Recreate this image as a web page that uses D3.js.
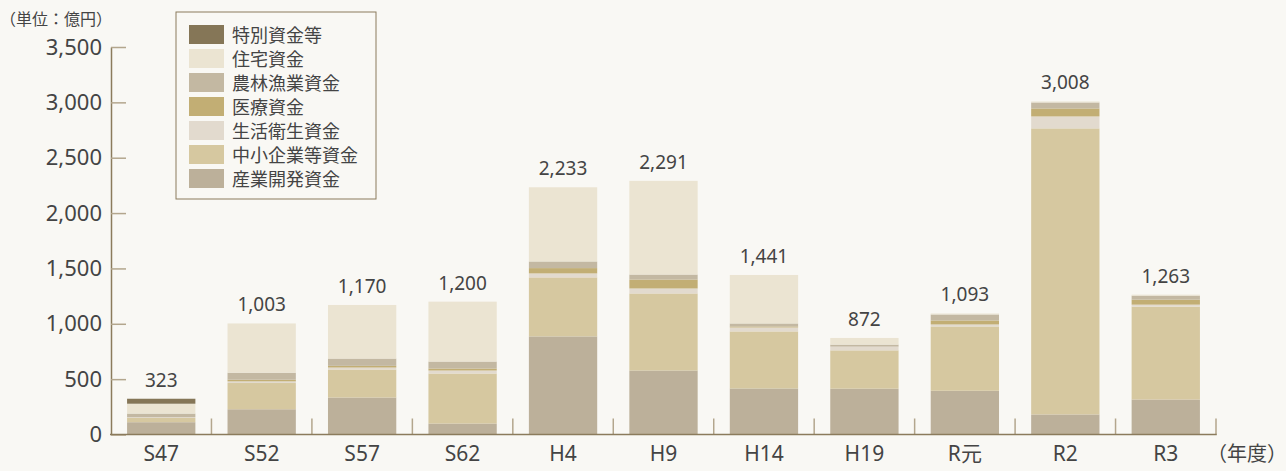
<!DOCTYPE html>
<html lang="ja">
<head>
<meta charset="utf-8">
<script src="https://cdn.jsdelivr.net/npm/d3@7"></script>
<style>
  html, body { margin: 0; padding: 0; background: #f9f8f4; }
  svg { display: block; }
  text { font-family: "Noto Sans", "Noto Sans CJK JP", sans-serif; fill: #444; }
</style>
</head>
<body>
<svg id="chart" width="1286" height="471"></svg>
<script>
// Fiscal-year categories and the stated totals (億円)
const categories = ["S47", "S52", "S57", "S62", "H4", "H9", "H14", "H19", "R元", "R2", "R3"];
const totals = [323, 1003, 1170, 1200, 2233, 2291, 1441, 872, 1093, 3008, 1263];

// Loan amounts by fund type, stacked bottom to top
const sangyoKaihatsu = [111, 228, 334, 99, 886, 578, 416, 414, 395, 181, 316];
const chushoKigyo    = [39, 237, 253, 452, 533, 696, 515, 346, 581, 2584, 839];
const seikatsuEisei  = [6, 15, 18, 27, 36, 45, 36, 34, 18, 108, 18];
const iryo           = [0, 15, 15, 18, 48, 81, 9, 0, 36, 72, 45];
const norinGyogyo    = [33, 63, 66, 63, 60, 45, 27, 18, 54, 54, 36];
const jutaku         = [89, 445, 484, 541, 670, 846, 438, 60, 9, 9, 9];
const tokubetsu      = [45, 0, 0, 0, 0, 0, 0, 0, 0, 0, 0];

const yTicks = [0, 500, 1000, 1500, 2000, 2500, 3000, 3500];

const series = [
  { name: "産業開発資金",   values: sangyoKaihatsu, color: "#bcb09a" },
  { name: "中小企業等資金", values: chushoKigyo,    color: "#d6c8a0" },
  { name: "生活衛生資金",   values: seikatsuEisei,  color: "#e2dace" },
  { name: "医療資金",       values: iryo,           color: "#c2ae74" },
  { name: "農林漁業資金",   values: norinGyogyo,    color: "#c3b8a2" },
  { name: "住宅資金",       values: jutaku,         color: "#ebe4d2" },
  { name: "特別資金等",     values: tokubetsu,      color: "#857657" }
];

const rows = categories.map((c, i) => {
  const r = { cat: c };
  series.forEach(s => { r[s.name] = s.values[i]; });
  return r;
});

const svg = d3.select("#chart");
const axisColor = "#8b7b5c";
const tickColor = "#b3a68d";

const x = d3.scaleBand()
  .domain(categories)
  .range([111, 1216])
  .paddingInner(0.32)
  .paddingOuter(0.16);

const y = d3.scaleLinear().domain([0, 3500]).range([434.5, 47]);

const stack = d3.stack().keys(series.map(s => s.name));
const stacked = stack(rows);
const colorOf = new Map(series.map(s => [s.name, s.color]));

// Stacked bars
svg.append("g").selectAll("g")
  .data(stacked)
  .join("g")
  .attr("fill", d => colorOf.get(d.key))
  .selectAll("rect")
  .data(d => d)
  .join("rect")
  .attr("x", d => x(d.data.cat))
  .attr("width", x.bandwidth())
  .attr("y", d => y(d[1]))
  .attr("height", d => Math.max(0, y(d[0]) - y(d[1])));

// Y axis with inward ticks
const yAxis = svg.append("g")
  .attr("transform", "translate(111,0)")
  .call(d3.axisLeft(y)
    .tickValues(yTicks)
    .tickFormat(d3.format(","))
    .tickSizeInner(-15)
    .tickSizeOuter(0)
    .tickPadding(9));
yAxis.select(".domain").attr("stroke", axisColor).attr("stroke-width", 1.5);
yAxis.selectAll(".tick line").attr("stroke", tickColor).attr("stroke-width", 1.5);
yAxis.selectAll(".tick text")
  .attr("font-size", 22)
  .attr("fill", "#444")
  .attr("font-family", "Noto Sans, sans-serif");

// X axis: baseline, category separators and labels
const xAxis = svg.append("g")
  .attr("transform", `translate(0,${y(0)})`)
  .call(d3.axisBottom(x).tickSize(0).tickPadding(12));
xAxis.select(".domain").remove();
xAxis.selectAll(".tick text")
  .attr("font-size", 21)
  .attr("fill", "#444")
  .attr("font-family", "Noto Sans, Noto Sans CJK JP, sans-serif");

const step = x.step();
const separators = categories.map(c => x(c) + x.bandwidth() + (step - x.bandwidth()) / 2);
svg.append("g").selectAll("line")
  .data(separators)
  .join("line")
  .attr("x1", d => d).attr("x2", d => d)
  .attr("y1", y(0) - 16).attr("y2", y(0))
  .attr("stroke", tickColor)
  .attr("stroke-width", 1.5);

svg.append("line")
  .attr("x1", 110).attr("x2", separators[separators.length - 1] + 0.75)
  .attr("y1", y(0)).attr("y2", y(0))
  .attr("stroke", axisColor)
  .attr("stroke-width", 1.5);

// Total labels above each bar
svg.append("g").selectAll("text")
  .data(categories)
  .join("text")
  .attr("x", (c) => x(c) + x.bandwidth() / 2)
  .attr("y", (c, i) => y(d3.sum(series, s => s.values[i])) - 12)
  .attr("text-anchor", "middle")
  .attr("font-size", 19)
  .text((c, i) => d3.format(",")(totals[i]));

// Unit and axis captions
svg.append("text")
  .attr("x", 0).attr("y", 25)
  .attr("font-size", 16)
  .attr("font-family", "Noto Sans CJK JP, sans-serif")
  .text("（単位：億円）");

svg.append("text")
  .attr("x", 1207).attr("y", 461)
  .attr("font-size", 20)
  .attr("font-family", "Noto Sans CJK JP, sans-serif")
  .text("（年度）");

// Legend, listed top series first
const legend = svg.append("g");
legend.append("rect")
  .attr("x", 176).attr("y", 12)
  .attr("width", 200).attr("height", 187)
  .attr("fill", "none")
  .attr("stroke", axisColor)
  .attr("stroke-width", 1);

const legendItems = series.slice().reverse();
const item = legend.selectAll("g.item")
  .data(legendItems)
  .join("g")
  .attr("class", "item")
  .attr("transform", (d, i) => `translate(189,${25 + i * 24})`);
item.append("rect")
  .attr("width", 35).attr("height", 19)
  .attr("fill", d => d.color);
item.append("text")
  .attr("x", 43).attr("y", 10)
  .attr("dominant-baseline", "central")
  .attr("font-size", 18)
  .attr("font-family", "Noto Sans CJK JP, sans-serif")
  .text(d => d.name);
</script>
</body>
</html>
